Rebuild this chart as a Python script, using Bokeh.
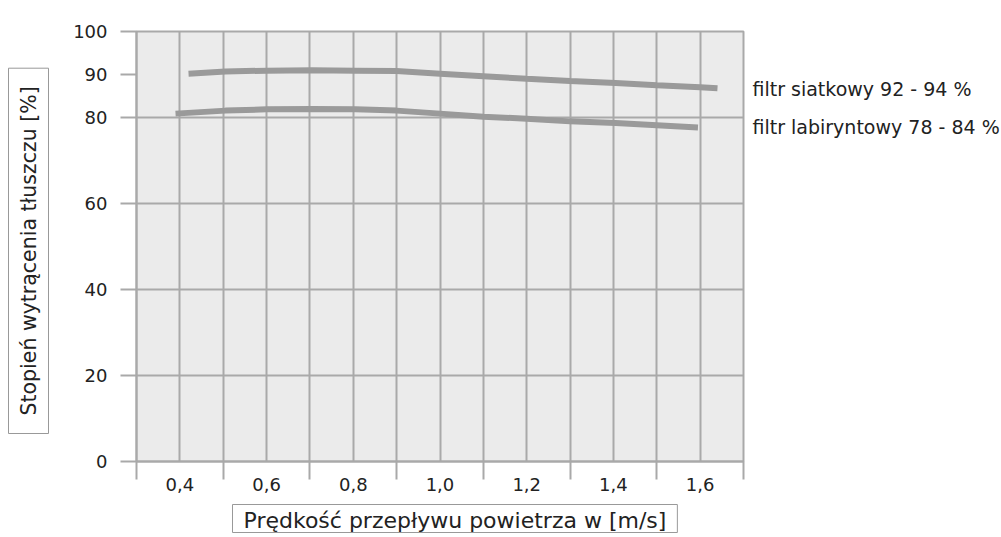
import numpy as np
from bokeh.plotting import figure
from bokeh.models import FixedTicker, Range1d, LinearAxis, Title
from bokeh.embed import file_html
from bokeh.resources import INLINE

# ---- data ----
x_siatkowy = [0.42, 0.505, 0.60, 0.705, 0.805, 0.90, 1.00, 1.10, 1.20, 1.30, 1.405, 1.50, 1.60, 1.64]
y_siatkowy = [90.2, 90.7, 90.9, 91.0, 90.9, 90.8, 90.2, 89.6, 89.0, 88.5, 88.0, 87.5, 87.05, 86.8]
x_labirynt = [0.39, 0.505, 0.60, 0.705, 0.805, 0.90, 1.00, 1.10, 1.20, 1.30, 1.405, 1.50, 1.595]
y_labirynt = [80.9, 81.6, 81.9, 82.0, 81.9, 81.6, 80.9, 80.2, 79.7, 79.1, 78.7, 78.2, 77.7]

series_names = ["filtr siatkowy 92 - 94 %", "filtr labiryntowy 78 - 84 %"]
x_ticks = [0.4, 0.6, 0.8, 1.0, 1.2, 1.4, 1.6]
x_tick_labels = ["0,4", "0,6", "0,8", "1,0", "1,2", "1,4", "1,6"]
x_minor = [0.3, 0.5, 0.7, 0.9, 1.1, 1.3, 1.5, 1.7]
y_ticks = [0, 20, 40, 60, 80, 90, 100]
y_grid = [0, 20, 40, 60, 80, 100]
x_title = "Prędkość przepływu powietrza w [m/s]"
y_title = "Stopień wytrącenia tłuszczu [%]"

FONT = "DejaVu Sans"
GRID = "#a9a9a9"
TEXT = "#222222"
FS = "18px"

p = figure(frame_width=607, frame_height=430,
           x_range=Range1d(0.3, 1.7), y_range=Range1d(0, 100),
           output_backend="svg", toolbar_location=None,
           min_border_left=136, min_border_right=258,
           min_border_top=31, min_border_bottom=76,
           background_fill_color="#ebebeb", border_fill_color="white",
           outline_line_color=GRID, outline_line_width=2)

# grid
grid_x = [round(v, 1) for v in np.arange(0.4, 1.75, 0.1)]
p.xgrid.ticker = FixedTicker(ticks=grid_x)
p.ygrid.ticker = FixedTicker(ticks=y_grid)
for g in (p.xgrid, p.ygrid):
    g.grid_line_color = GRID
    g.grid_line_width = 2

# x axis
xa = p.xaxis[0]
xa.ticker = FixedTicker(ticks=x_ticks, minor_ticks=x_minor)
xa.major_label_overrides = {t: l for t, l in zip(x_ticks, x_tick_labels)}
xa.major_tick_out = 0
xa.major_tick_in = 0
xa.minor_tick_out = 18
xa.minor_tick_in = 0
xa.minor_tick_line_color = GRID
xa.minor_tick_line_width = 2
xa.axis_line_color = GRID
xa.axis_line_width = 2
xa.major_label_standoff = -2
xa.major_label_text_font = FONT
xa.major_label_text_font_size = FS
xa.major_label_text_color = TEXT

# y axis
ya = p.yaxis[0]
ya.ticker = FixedTicker(ticks=y_ticks)
ya.major_tick_out = 16
ya.major_tick_in = 0
ya.minor_tick_out = 0
ya.minor_tick_in = 0
ya.major_tick_line_color = GRID
ya.major_tick_line_width = 2
ya.axis_line_color = GRID
ya.axis_line_width = 2
ya.major_label_standoff = 13
ya.major_label_text_font = FONT
ya.major_label_text_font_size = FS
ya.major_label_text_color = TEXT

# curves
CURVE = "#9a9a9a"
p.line(x_siatkowy, y_siatkowy, line_color=CURVE, line_width=6, line_cap="butt")
p.line(x_labirynt, y_labirynt, line_color=CURVE, line_width=6, line_cap="butt")

# series names on a right-hand axis
legend_pos = [86.6, 77.7]
ra = LinearAxis(ticker=FixedTicker(ticks=legend_pos),
                major_label_overrides={v: n for v, n in zip(legend_pos, series_names)},
                major_tick_out=0, major_tick_in=0, minor_tick_out=0, minor_tick_in=0,
                axis_line_color=None, major_label_standoff=9,
                major_label_text_font=FONT, major_label_text_font_size="19px",
                major_label_text_color=TEXT)
p.add_layout(ra, "right")

# boxed axis titles
p.add_layout(Title(text=y_title, align="left", offset=28, standoff=0,
                   vertical_align="top",
                   text_font=FONT, text_font_size="20.5px", text_font_style="normal",
                   text_color=TEXT, background_fill_color="white",
                   border_line_color="#999999", border_line_width=1,
                   padding=dict(left=18, right=18, top=8, bottom=8)), "left")
p.add_layout(Title(text=x_title, align="left", offset=96, standoff=18,
                   text_font=FONT, text_font_size="22px", text_font_style="normal",
                   text_color=TEXT, background_fill_color="white",
                   border_line_color="#999999", border_line_width=1,
                   padding=dict(left=11, right=11, top=3, bottom=0)), "below")

open("out.html", "w").write(file_html(p, INLINE))
